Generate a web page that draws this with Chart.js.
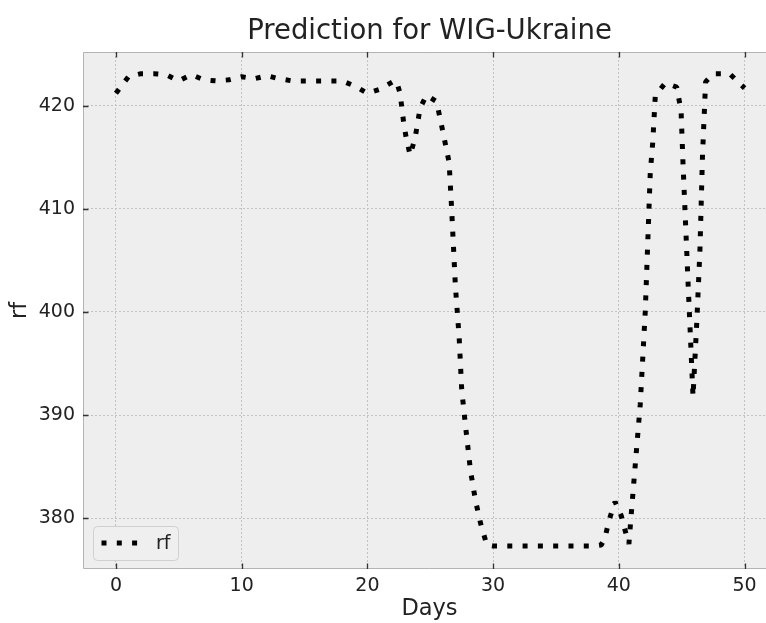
<!DOCTYPE html>
<html>
<head>
<meta charset="utf-8">
<script src="https://cdn.jsdelivr.net/npm/chart.js@4.4.1/dist/chart.umd.min.js"></script>
<style>
  html, body { margin: 0; padding: 0; background: #fff; overflow: hidden; width: 766px; height: 623px; }
  #clip { position: fixed; left: 0; top: 0; width: 766px; height: 623px; overflow: hidden; }
  #wrap { position: absolute; left: 0; top: 0; width: 776px; height: 623px; }
</style>
</head>
<body>
<div id="clip"><div id="wrap"><canvas id="chart"></canvas></div></div>
<script>
// Days (x) and model output (rf)
const days = [0, 1, 2, 3, 4, 5, 6, 7, 8, 9, 10, 11, 12, 13, 14, 15, 16, 17, 18, 19, 20, 21, 22,
  22.3, 22.6, 22.9, 23.1, 23.4, 23.8, 24.2, 24.7, 25.5, 26.0,
  26.5, 26.7, 27.0, 27.3, 27.5, 27.8, 28.2, 28.6, 29.0, 29.5,
  30, 32, 34, 36, 38,
  38.6, 38.9, 39.2, 39.7, 40.2, 40.5, 40.8,
  41.0, 41.2, 41.7, 42.1, 42.5, 42.7, 42.9,
  43.7, 44.6, 44.95, 45.1, 45.5, 45.9,
  46.2, 46.45, 46.65, 46.9, 47.5, 48.8, 50];
const rf = [421.2, 422.8, 423.1, 423.1, 423.0, 422.4, 423.0, 422.5, 422.4, 422.5, 422.8, 422.6, 422.9, 422.6, 422.4, 422.4, 422.4, 422.4, 422.4, 421.9, 421.2, 421.6, 422.3,
  422.4, 421.2, 418.2, 416.8, 415.2, 416.9, 419.8, 421.0, 420.4, 417.5,
  414.5, 410.0, 402.5, 397.5, 392.5, 389.0, 384.6, 381.7, 379.5, 377.4,
  377.3, 377.3, 377.3, 377.3, 377.3,
  377.4, 378.1, 379.7, 381.6, 380.2, 378.8, 377.5,
  380.6, 383.6, 391.0, 400.0, 413.5, 416.5, 421.0,
  422.2, 421.8, 419.5, 414.5, 403.0, 391.8,
  399.0, 406.0, 415.0, 422.3, 423.1, 423.1, 421.7];

const xTicks = [0, 10, 20, 30, 40, 50];
const yTicks = [380, 390, 400, 410, 420];

const FONT = "'DejaVu Sans', sans-serif";
const TICK_LEN = 5.5;

// plot background, inward tick marks, frame and the legend box
const decor = {
  id: "decor",
  beforeDraw(chart) {
    const { ctx, chartArea: a } = chart;
    ctx.save();
    ctx.fillStyle = "#eeeeee";
    ctx.fillRect(a.left, a.top, a.right - a.left, a.bottom - a.top);
    ctx.restore();
  },
  afterDraw(chart) {
    const { ctx, chartArea: a, scales } = chart;
    ctx.save();
    // frame: the right side of the figure is cut off in the reference
    ctx.strokeStyle = "#b4b4b4";
    ctx.lineWidth = 1;
    ctx.beginPath();
    ctx.moveTo(a.right, a.top + 0.5);
    ctx.lineTo(a.left + 0.5, a.top + 0.5);
    ctx.lineTo(a.left + 0.5, a.bottom - 0.5);
    ctx.lineTo(a.right, a.bottom - 0.5);
    ctx.stroke();

    ctx.strokeStyle = "#333";
    ctx.lineWidth = 1.3;
    ctx.beginPath();
    xTicks.forEach(function (v) {
      const px = Math.round(scales.x.getPixelForValue(v)) + 0.5;
      ctx.moveTo(px, a.bottom); ctx.lineTo(px, a.bottom - TICK_LEN);
      ctx.moveTo(px, a.top); ctx.lineTo(px, a.top + TICK_LEN);
    });
    yTicks.forEach(function (v) {
      const py = Math.round(scales.y.getPixelForValue(v)) + 0.5;
      ctx.moveTo(a.left, py); ctx.lineTo(a.left + TICK_LEN, py);
    });
    ctx.stroke();

    // legend (lower left, inside the plot)
    const ds = chart.data.datasets[0];
    const bx = a.left + 10, by = a.bottom - 43, bw = 85, bh = 34;
    ctx.beginPath();
    ctx.roundRect(bx + 0.5, by + 0.5, bw, bh, 4);
    ctx.fillStyle = "#efefef";
    ctx.fill();
    ctx.strokeStyle = "#d0d0d0";
    ctx.lineWidth = 1;
    ctx.stroke();

    const ly = by + bh / 2;
    ctx.beginPath();
    ctx.setLineDash(ds.borderDash);
    ctx.lineCap = "butt";
    ctx.lineWidth = ds.borderWidth;
    ctx.strokeStyle = ds.borderColor;
    ctx.moveTo(bx + 8.5, ly);
    ctx.lineTo(bx + 45, ly);
    ctx.stroke();
    ctx.setLineDash([]);

    ctx.fillStyle = "#222";
    ctx.font = "19px " + FONT;
    ctx.textBaseline = "middle";
    ctx.textAlign = "left";
    ctx.fillText(ds.label, bx + 63, ly + 1);
    ctx.restore();
  }
};

const ctx = document.getElementById("chart").getContext("2d");
const chart = new Chart(ctx, {
  type: "line",
  data: {
    datasets: [
      {
        label: "rf",
        data: days.map(function (d, i) { return { x: d, y: rf[i] }; }),
        borderColor: "#000",
        borderWidth: 5,
        borderDash: [5, 10.3],
        borderCapStyle: "butt",
        borderJoinStyle: "bevel",
        pointRadius: 0,
        tension: 0,
        fill: false,
      },
    ],
  },
  options: {
    responsive: true,
    maintainAspectRatio: false,
    animation: false,
    layout: { padding: 0 },
    plugins: {
      legend: { display: false },
      tooltip: { enabled: false },
      title: {
        display: true,
        text: "Prediction for WIG-Ukraine",
        fullSize: false,
        color: "#222",
        font: { family: FONT, size: 27.5, weight: "normal" },
        padding: { top: 15, bottom: 4 },
      },
    },
    scales: {
      x: {
        type: "linear",
        min: -2.62,
        max: 52.5,
        afterBuildTicks: function (s) { s.ticks = xTicks.map(function (v) { return { value: v }; }); },
        afterFit: function (s) { s.height = 54; },
        ticks: { color: "#222", padding: 6, maxRotation: 0, font: { family: FONT, size: 19 } },
        grid: { color: "#c2c2c2", lineWidth: 1, drawTicks: false },
        border: { display: false, dash: [2, 2] },
        title: {
          display: true,
          text: "Days",
          color: "#222",
          font: { family: FONT, size: 22.5 },
          padding: { top: 0, bottom: 0 },
        },
      },
      y: {
        min: 375.07,
        max: 425.2,
        afterBuildTicks: function (s) { s.ticks = yTicks.map(function (v) { return { value: v }; }); },
        afterFit: function (s) { s.width = 83; },
        ticks: { color: "#222", padding: 8, font: { family: FONT, size: 19 } },
        grid: { color: "#c2c2c2", lineWidth: 1, drawTicks: false },
        border: { display: false, dash: [2, 2] },
        title: {
          display: true,
          text: "rf",
          color: "#222",
          font: { family: FONT, size: 22.5 },
          padding: { top: 7, bottom: 0 },
        },
      },
    },
  },
  plugins: [decor],
});
</script>
</body>
</html>
